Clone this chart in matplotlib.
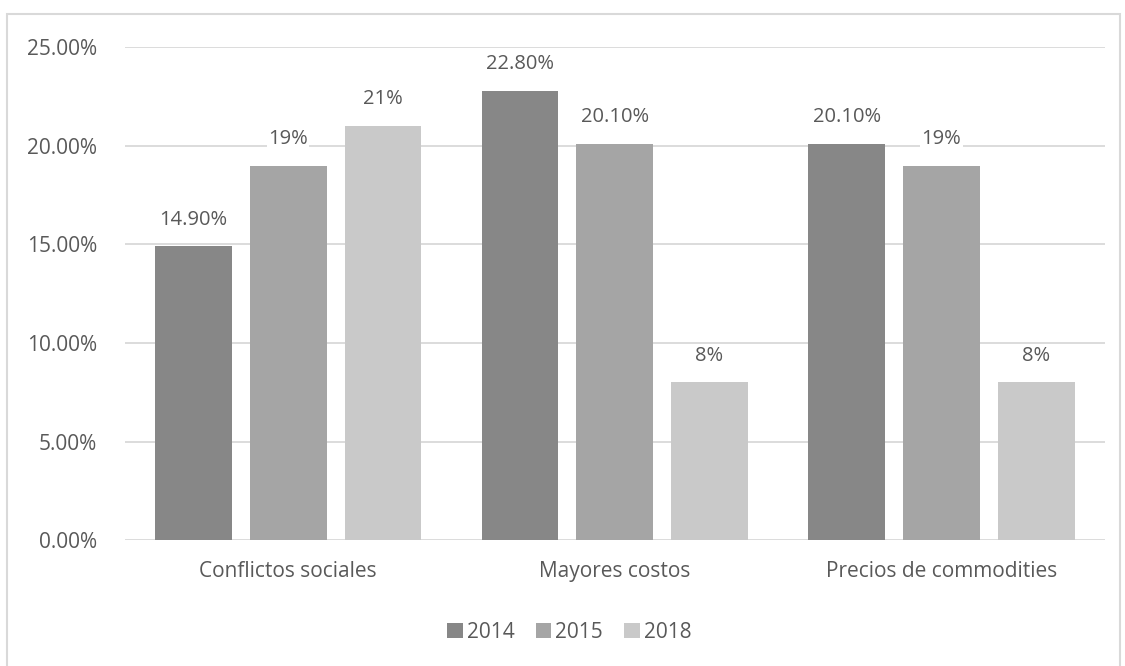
import matplotlib.pyplot as plt
import numpy as np
from matplotlib.patches import Rectangle

categories = ["Conflictos sociales", "Mayores costos", "Precios de commodities"]
years = ["2014", "2015", "2018"]
values_2014 = [14.9, 22.8, 20.1]
values_2015 = [19.0, 20.1, 19.0]
values_2018 = [21.0, 8.0, 8.0]
labels_2014 = ["14.90%", "22.80%", "20.10%"]
labels_2015 = ["19%", "20.10%", "19%"]
labels_2018 = ["21%", "8%", "8%"]

colors = ["#878787", "#a5a5a5", "#c9c9c9"]
txt = "#595959"

plt.rcParams['font.family'] = ['Open Sans', 'DejaVu Sans']

fig = plt.figure(figsize=(11.25, 6.66), dpi=100)
ax = fig.add_axes([0.111, 0.189, 0.871, 0.74])

x = np.arange(len(categories))
w = 0.235
step = 0.29
series = [values_2014, values_2015, values_2018]
labels = [labels_2014, labels_2015, labels_2018]
for i, (vals, labs) in enumerate(zip(series, labels)):
    pos = x + (i - 1) * step
    bars = ax.bar(pos, vals, w, color=colors[i], label=years[i], zorder=3)
    for b, lab in zip(bars, labs):
        ax.text(b.get_x() + b.get_width() / 2, b.get_height() + 0.85, lab,
                ha='center', va='bottom', fontsize=14.5, color=txt, zorder=4,
                bbox=dict(facecolor='white', edgecolor='none', pad=1))

ax.set_xlim(-0.5, 2.5)
ax.set_ylim(0, 25)
ax.set_yticks(np.arange(0, 26, 5))
ax.set_yticklabels(["%.2f%%" % v for v in np.arange(0, 26, 5)])
ax.set_xticks(x)
ax.set_xticklabels(categories)
ax.tick_params(axis='both', length=0, labelsize=15, colors=txt)
ax.tick_params(axis='x', pad=15)
ax.tick_params(axis='y', pad=20)
ax.grid(axis='y', color='#d9d9d9', linewidth=1.3, zorder=0)
for s in ax.spines.values():
    s.set_visible(False)

leg = fig.legend(loc='center', bbox_to_anchor=(0.506, 1 - 632 / 666), ncol=3, frameon=False,
                 fontsize=15, handlelength=0.75, handleheight=0.75, handletextpad=0.2,
                 columnspacing=1.0)
for t in leg.get_texts():
    t.set_color(txt)

fig.patches.append(Rectangle((7 / 1125, -0.02), 1113 / 1125, 1 - 14 / 666 + 0.02,
                             transform=fig.transFigure, fill=False,
                             edgecolor='#d9d9d9', linewidth=1.5))

fig.savefig("out.png", dpi=100)
